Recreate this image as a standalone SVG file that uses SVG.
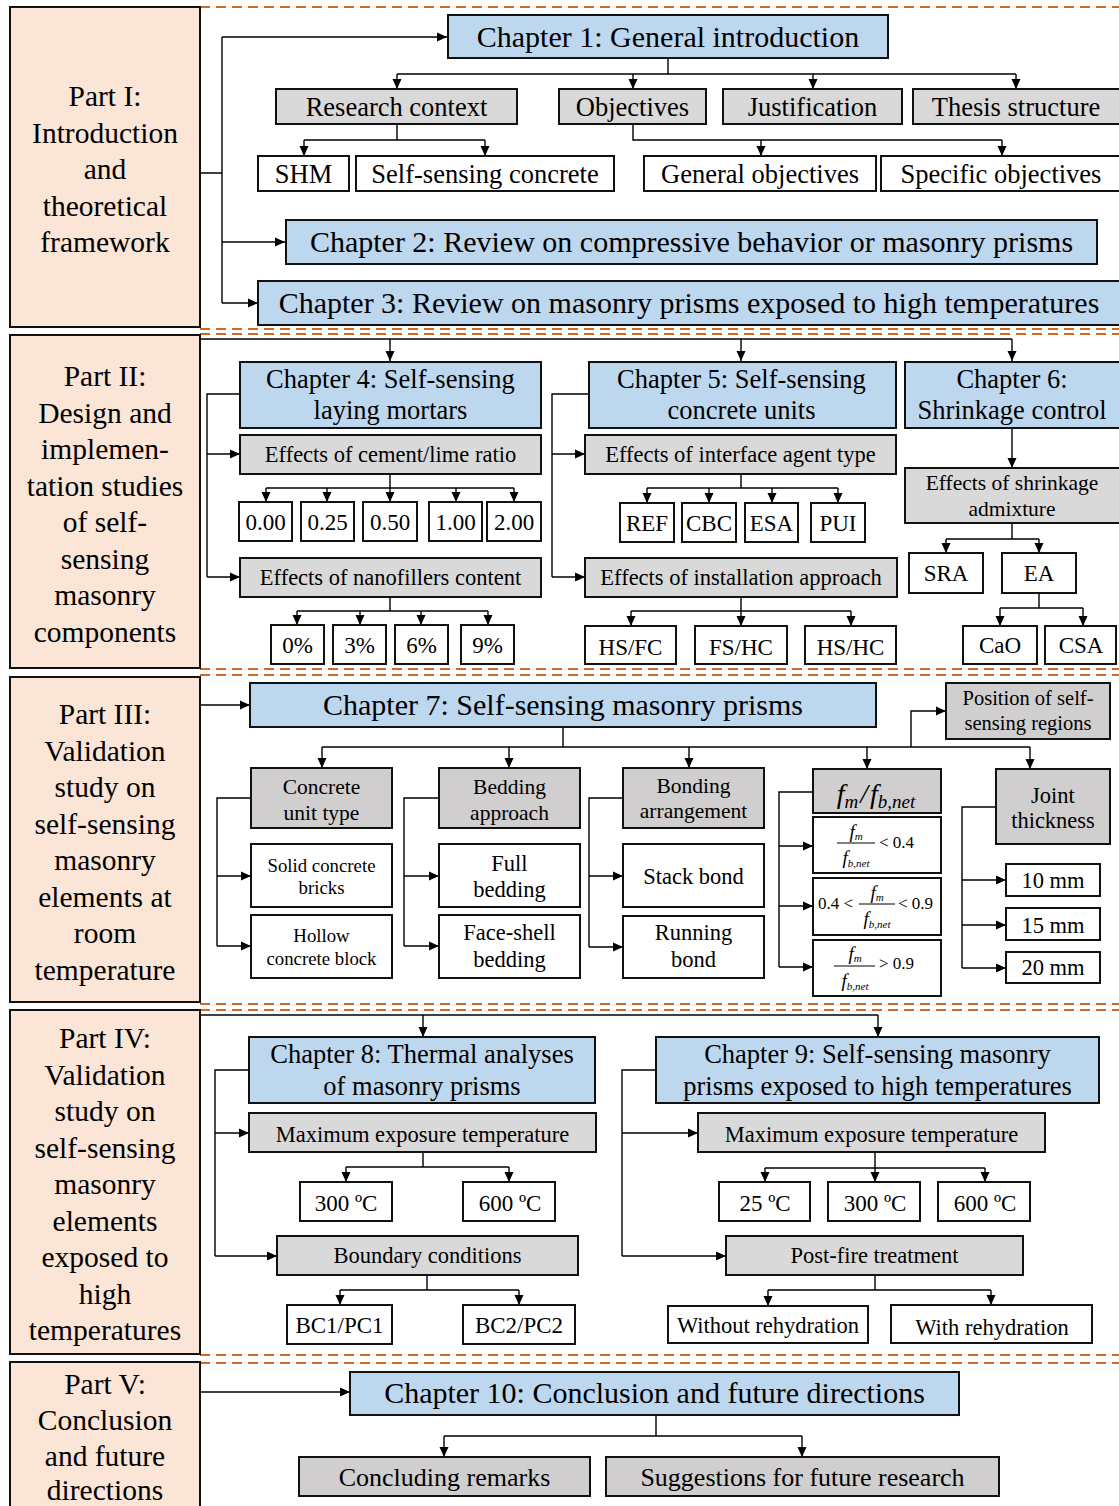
<svg xmlns="http://www.w3.org/2000/svg" width="1119" height="1506" viewBox="0 0 1119 1506">
<style>
rect{stroke:#111;stroke-width:2}
.p{fill:#FBE5D6}
.b{fill:#BDD7EE}
.g{fill:#D9D9D9}
.h{fill:#D0CECE}
.w{fill:#FFFFFF}
text{font-family:"Liberation Serif","Times New Roman",serif;fill:#000;text-anchor:middle}
.pt{font-size:29.5px}
.c1{font-size:30px}
.c2{font-size:26.5px}
.s26{font-size:26px}
.s22{font-size:22.5px}
.s23{font-size:23px}
.s21{font-size:21.5px}
.s19{font-size:18.8px}
.s20{font-size:20.5px}
.i{font-style:italic}
.l{text-anchor:start}
.conn path{fill:none;stroke:#000;stroke-width:1.4}
.dash line{stroke:#D2691E;stroke-width:2;stroke-dasharray:10 6}
</style>
<defs>
<marker id="a" markerUnits="userSpaceOnUse" markerWidth="10" markerHeight="10" refX="10" refY="5" orient="auto" viewBox="0 0 10 10">
<path d="M0,0.5 L10,5 L0,9.5 z" fill="#000"/>
</marker>
</defs>
<rect width="1119" height="1506" fill="#fff" style="stroke:none"/>

<g class="dash">
<line x1="200" y1="7" x2="1119" y2="7"/>
<line x1="200" y1="329" x2="1119" y2="329"/>
<line x1="200" y1="334" x2="1119" y2="334"/>
<line x1="200" y1="669" x2="1119" y2="669"/>
<line x1="200" y1="675" x2="1119" y2="675"/>
<line x1="200" y1="1004" x2="1119" y2="1004"/>
<line x1="200" y1="1010" x2="1119" y2="1010"/>
<line x1="200" y1="1355" x2="1119" y2="1355"/>
<line x1="200" y1="1363" x2="1119" y2="1363"/>
</g>

<g class="conn">
<!-- Part I -->
<path d="M200,173 H222 M222,37 V303"/>
<path d="M222,37 H447" marker-end="url(#a)"/>
<path d="M222,242 H285" marker-end="url(#a)"/>
<path d="M222,303 H258" marker-end="url(#a)"/>
<path d="M668,58 V74 M397,74 H1016"/>
<path d="M397,74 V89" marker-end="url(#a)"/>
<path d="M633,74 V89" marker-end="url(#a)"/>
<path d="M813,74 V89" marker-end="url(#a)"/>
<path d="M1016,74 V89" marker-end="url(#a)"/>
<path d="M397,124 V140 M304,140 H485"/>
<path d="M304,140 V156" marker-end="url(#a)"/>
<path d="M485,140 V156" marker-end="url(#a)"/>
<path d="M633,124 V140 H1002"/>
<path d="M761,140 V156" marker-end="url(#a)"/>
<path d="M1002,140 V156" marker-end="url(#a)"/>
<!-- Part II -->
<path d="M200,339 H1012"/>
<path d="M390,339 V361" marker-end="url(#a)"/>
<path d="M741,339 V361" marker-end="url(#a)"/>
<path d="M1012,339 V361" marker-end="url(#a)"/>
<path d="M240,394 H207 V577"/>
<path d="M207,454 H240" marker-end="url(#a)"/>
<path d="M207,577 H240" marker-end="url(#a)"/>
<path d="M390,474 V488 M266,488 H514"/>
<path d="M266,488 V502" marker-end="url(#a)"/>
<path d="M327,488 V502" marker-end="url(#a)"/>
<path d="M390,488 V502" marker-end="url(#a)"/>
<path d="M456,488 V502" marker-end="url(#a)"/>
<path d="M514,488 V502" marker-end="url(#a)"/>
<path d="M390,597 V611 M297,611 H488"/>
<path d="M297,611 V625" marker-end="url(#a)"/>
<path d="M360,611 V625" marker-end="url(#a)"/>
<path d="M421,611 V625" marker-end="url(#a)"/>
<path d="M488,611 V625" marker-end="url(#a)"/>
<path d="M589,394 H552 V577"/>
<path d="M552,454 H585" marker-end="url(#a)"/>
<path d="M552,577 H585" marker-end="url(#a)"/>
<path d="M741,474 V488 M647,488 H838"/>
<path d="M647,488 V503" marker-end="url(#a)"/>
<path d="M709,488 V503" marker-end="url(#a)"/>
<path d="M772,488 V503" marker-end="url(#a)"/>
<path d="M838,488 V503" marker-end="url(#a)"/>
<path d="M741,597 V611 M631,611 H851"/>
<path d="M631,611 V626" marker-end="url(#a)"/>
<path d="M741,611 V626" marker-end="url(#a)"/>
<path d="M851,611 V626" marker-end="url(#a)"/>
<path d="M1012,428 V468" marker-end="url(#a)"/>
<path d="M1012,523 V539 M946,539 H1039"/>
<path d="M946,539 V553" marker-end="url(#a)"/>
<path d="M1039,539 V553" marker-end="url(#a)"/>
<path d="M1039,593 V608 M1000,608 H1083"/>
<path d="M1000,608 V626" marker-end="url(#a)"/>
<path d="M1083,608 V626" marker-end="url(#a)"/>
<!-- Part III -->
<path d="M200,705 H250" marker-end="url(#a)"/>
<path d="M563,727 V747 M322,747 H1030"/>
<path d="M322,747 V768" marker-end="url(#a)"/>
<path d="M509,747 V768" marker-end="url(#a)"/>
<path d="M689,747 V768" marker-end="url(#a)"/>
<path d="M867,747 V769" marker-end="url(#a)"/>
<path d="M1030,747 V769" marker-end="url(#a)"/>
<path d="M911,747 V711 H946" marker-end="url(#a)"/>
<path d="M251,798 H217 V946"/>
<path d="M217,876 H251" marker-end="url(#a)"/>
<path d="M217,946 H251" marker-end="url(#a)"/>
<path d="M439,798 H404 V946"/>
<path d="M404,876 H439" marker-end="url(#a)"/>
<path d="M404,946 H439" marker-end="url(#a)"/>
<path d="M623,798 H589 V947"/>
<path d="M589,876 H623" marker-end="url(#a)"/>
<path d="M589,947 H623" marker-end="url(#a)"/>
<path d="M813,792 H779 V967"/>
<path d="M779,846 H813" marker-end="url(#a)"/>
<path d="M779,906 H813" marker-end="url(#a)"/>
<path d="M779,967 H813" marker-end="url(#a)"/>
<path d="M996,807 H962 V968"/>
<path d="M962,880 H1006" marker-end="url(#a)"/>
<path d="M962,925 H1006" marker-end="url(#a)"/>
<path d="M962,968 H1006" marker-end="url(#a)"/>
<!-- Part IV -->
<path d="M200,1015 H878"/>
<path d="M423,1015 V1037" marker-end="url(#a)"/>
<path d="M878,1015 V1037" marker-end="url(#a)"/>
<path d="M249,1070 H215 V1256"/>
<path d="M215,1133 H249" marker-end="url(#a)"/>
<path d="M215,1256 H277" marker-end="url(#a)"/>
<path d="M423,1152 V1167 M346,1167 H509"/>
<path d="M346,1167 V1182" marker-end="url(#a)"/>
<path d="M509,1167 V1182" marker-end="url(#a)"/>
<path d="M427,1275 V1290 M340,1290 H519"/>
<path d="M340,1290 V1305" marker-end="url(#a)"/>
<path d="M519,1290 V1305" marker-end="url(#a)"/>
<path d="M656,1070 H622 V1256"/>
<path d="M622,1133 H698" marker-end="url(#a)"/>
<path d="M622,1256 H726" marker-end="url(#a)"/>
<path d="M875,1152 V1168 M765,1168 H985"/>
<path d="M765,1168 V1182" marker-end="url(#a)"/>
<path d="M875,1168 V1182" marker-end="url(#a)"/>
<path d="M985,1168 V1182" marker-end="url(#a)"/>
<path d="M875,1275 V1290 M768,1290 H991"/>
<path d="M768,1290 V1306" marker-end="url(#a)"/>
<path d="M991,1290 V1305" marker-end="url(#a)"/>
<!-- Part V -->
<path d="M200,1392 H350" marker-end="url(#a)"/>
<path d="M656,1415 V1436 M444,1436 H802"/>
<path d="M444,1436 V1457" marker-end="url(#a)"/>
<path d="M802,1436 V1457" marker-end="url(#a)"/>
</g>

<!-- Parts -->
<g id="part1"><rect class="p" x="10" y="7" width="190" height="320"/>
<text class="pt" x="105" y="106">Part I:</text><text class="pt" x="105" y="142.5">Introduction</text><text class="pt" x="105" y="179">and</text><text class="pt" x="105" y="215.5">theoretical</text><text class="pt" x="105" y="252">framework</text></g>
<g id="part2"><rect class="p" x="10" y="335" width="190" height="333"/>
<text class="pt" x="105" y="386">Part II:</text><text class="pt" x="105" y="422.5">Design and</text><text class="pt" x="105" y="459">implemen-</text><text class="pt" x="105" y="495.5">tation studies</text><text class="pt" x="105" y="532">of self-</text><text class="pt" x="105" y="568.5">sensing</text><text class="pt" x="105" y="605">masonry</text><text class="pt" x="105" y="641.5">components</text></g>
<g id="part3"><rect class="p" x="10" y="677" width="190" height="325"/>
<text class="pt" x="105" y="724">Part III:</text><text class="pt" x="105" y="760.5">Validation</text><text class="pt" x="105" y="797">study on</text><text class="pt" x="105" y="833.5">self-sensing</text><text class="pt" x="105" y="870">masonry</text><text class="pt" x="105" y="906.5">elements at</text><text class="pt" x="105" y="943">room</text><text class="pt" x="105" y="979.5">temperature</text></g>
<g id="part4"><rect class="p" x="10" y="1010" width="190" height="344"/>
<text class="pt" x="105" y="1048">Part IV:</text><text class="pt" x="105" y="1084.5">Validation</text><text class="pt" x="105" y="1121">study on</text><text class="pt" x="105" y="1157.5">self-sensing</text><text class="pt" x="105" y="1194">masonry</text><text class="pt" x="105" y="1230.5">elements</text><text class="pt" x="105" y="1267">exposed to</text><text class="pt" x="105" y="1303.5">high</text><text class="pt" x="105" y="1340">temperatures</text></g>
<g id="part5"><rect class="p" x="10" y="1362" width="190" height="160"/>
<text class="pt" x="105" y="1394">Part V:</text><text class="pt" x="105" y="1430">Conclusion</text><text class="pt" x="105" y="1466">and future</text><text class="pt" x="105" y="1500">directions</text></g>

<!-- Part I nodes -->
<g id="ch1"><rect class="b" x="448" y="15" width="440" height="43"/><text class="c1" x="668" y="47">Chapter 1: General introduction</text></g>
<g id="rc"><rect class="g" x="276" y="89" width="241" height="35"/><text class="c2" x="396.5" y="116">Research context</text></g>
<g id="obj"><rect class="g" x="559" y="89" width="147" height="35"/><text class="c2" x="632.5" y="116">Objectives</text></g>
<g id="just"><rect class="g" x="723" y="89" width="179" height="35"/><text class="c2" x="812.5" y="116">Justification</text></g>
<g id="ts"><rect class="g" x="913" y="89" width="210" height="35"/><text class="c2" x="1016" y="116">Thesis structure</text></g>
<g id="shm"><rect class="w" x="258" y="156" width="91" height="35"/><text class="c2" x="303.5" y="183">SHM</text></g>
<g id="ssc"><rect class="w" x="356" y="156" width="258" height="35"/><text class="c2" x="485" y="183">Self-sensing concrete</text></g>
<g id="go"><rect class="w" x="644" y="156" width="232" height="35"/><text class="c2" x="760" y="183">General objectives</text></g>
<g id="so"><rect class="w" x="881" y="156" width="242" height="35"/><text class="c2" x="1001" y="183">Specific objectives</text></g>
<g id="ch2"><rect class="b" x="286" y="220" width="811" height="44"/><text class="c1" x="691.5" y="252">Chapter 2: Review on compressive behavior or masonry prisms</text></g>
<g id="ch3"><rect class="b" x="258" y="281" width="865" height="44"/><text class="c1" x="689" y="313">Chapter 3: Review on masonry prisms exposed to high temperatures</text></g>

<!-- Part II nodes -->
<g id="ch4"><rect class="b" x="240" y="362" width="301" height="66"/><text class="c2" x="390.5" y="388">Chapter 4: Self-sensing</text><text class="c2" x="390.5" y="419">laying mortars</text></g>
<g id="clr"><rect class="g" x="240" y="435" width="301" height="39"/><text class="s22" x="390.5" y="462">Effects of cement/lime ratio</text></g>
<g id="r000"><rect class="w" x="239" y="502" width="53" height="39"/><text class="s23" x="265.5" y="530">0.00</text></g>
<g id="r025"><rect class="w" x="301" y="502" width="53" height="39"/><text class="s23" x="327.5" y="530">0.25</text></g>
<g id="r050"><rect class="w" x="363" y="502" width="54" height="39"/><text class="s23" x="390" y="530">0.50</text></g>
<g id="r100"><rect class="w" x="429" y="502" width="53" height="39"/><text class="s23" x="455.5" y="530">1.00</text></g>
<g id="r200"><rect class="w" x="487" y="502" width="54" height="39"/><text class="s23" x="514" y="530">2.00</text></g>
<g id="nfc"><rect class="g" x="240" y="558" width="301" height="39"/><text class="s22" x="390.5" y="585">Effects of nanofillers content</text></g>
<g id="n0"><rect class="w" x="271" y="625" width="53" height="39"/><text class="s23" x="297.5" y="653">0%</text></g>
<g id="n3"><rect class="w" x="333" y="625" width="53" height="39"/><text class="s23" x="359.5" y="653">3%</text></g>
<g id="n6"><rect class="w" x="395" y="625" width="53" height="39"/><text class="s23" x="421.5" y="653">6%</text></g>
<g id="n9"><rect class="w" x="461" y="625" width="53" height="39"/><text class="s23" x="487.5" y="653">9%</text></g>
<g id="ch5"><rect class="b" x="589" y="362" width="307" height="66"/><text class="c2" x="741.5" y="388">Chapter 5: Self-sensing</text><text class="c2" x="741.5" y="419">concrete units</text></g>
<g id="iat"><rect class="g" x="585" y="435" width="311" height="39"/><text class="s22" x="740.5" y="462">Effects of interface agent type</text></g>
<g id="ref"><rect class="w" x="620" y="503" width="54" height="39"/><text class="s23" x="647" y="531">REF</text></g>
<g id="cbc"><rect class="w" x="682" y="503" width="54" height="39"/><text class="s23" x="709" y="531">CBC</text></g>
<g id="esa"><rect class="w" x="745" y="503" width="53" height="39"/><text class="s23" x="771.5" y="531">ESA</text></g>
<g id="pui"><rect class="w" x="811" y="503" width="54" height="39"/><text class="s23" x="838" y="531">PUI</text></g>
<g id="inst"><rect class="g" x="585" y="558" width="312" height="39"/><text class="s22" x="741" y="585">Effects of installation approach</text></g>
<g id="hsfc"><rect class="w" x="585" y="626" width="91" height="38"/><text class="s23" x="630.5" y="655">HS/FC</text></g>
<g id="fshc"><rect class="w" x="695" y="626" width="92" height="38"/><text class="s23" x="741" y="655">FS/HC</text></g>
<g id="hshc"><rect class="w" x="805" y="626" width="91" height="38"/><text class="s23" x="850.5" y="655">HS/HC</text></g>
<g id="ch6"><rect class="b" x="905" y="362" width="218" height="66"/><text class="c2" x="1012" y="388">Chapter 6:</text><text class="c2" x="1012" y="419">Shrinkage control</text></g>
<g id="esa2"><rect class="g" x="905" y="468" width="218" height="55"/><text class="s21" x="1012" y="490">Effects of shrinkage</text><text class="s21" x="1012" y="516">admixture</text></g>
<g id="sra"><rect class="w" x="909" y="553" width="74" height="40"/><text class="s23" x="946" y="581">SRA</text></g>
<g id="ea"><rect class="w" x="1002" y="553" width="74" height="40"/><text class="s23" x="1039" y="581">EA</text></g>
<g id="cao"><rect class="w" x="963" y="626" width="74" height="38"/><text class="s23" x="1000" y="653">CaO</text></g>
<g id="csa"><rect class="w" x="1045" y="626" width="71" height="38"/><text class="s23" x="1081" y="653">CSA</text></g>

<!-- Part III nodes -->
<g id="ch7"><rect class="b" x="250" y="683" width="626" height="44"/><text class="c1" x="563" y="715">Chapter 7: Self-sensing masonry prisms</text></g>
<g id="pos"><rect class="h" x="946" y="683" width="164" height="56"/><text class="s20" x="1028" y="705">Position of self-</text><text class="s20" x="1028" y="730">sensing regions</text></g>
<g id="cut"><rect class="h" x="251" y="768" width="141" height="60"/><text class="s21" x="321.5" y="794">Concrete</text><text class="s21" x="321.5" y="820">unit type</text></g>
<g id="scb"><rect class="w" x="251" y="844" width="141" height="63"/><text class="s19" x="321.5" y="872">Solid concrete</text><text class="s19" x="321.5" y="894">bricks</text></g>
<g id="hcb"><rect class="w" x="251" y="915" width="141" height="63"/><text class="s19" x="321.5" y="942">Hollow</text><text class="s19" x="321.5" y="965">concrete block</text></g>
<g id="bed"><rect class="h" x="439" y="768" width="141" height="60"/><text class="s21" x="509.5" y="794">Bedding</text><text class="s21" x="509.5" y="820">approach</text></g>
<g id="fbed"><rect class="w" x="439" y="844" width="141" height="63"/><text class="s22" x="509.5" y="871">Full</text><text class="s22" x="509.5" y="897">bedding</text></g>
<g id="fsb"><rect class="w" x="439" y="915" width="141" height="63"/><text class="s22" x="509.5" y="940">Face-shell</text><text class="s22" x="509.5" y="967">bedding</text></g>
<g id="bond"><rect class="h" x="623" y="768" width="141" height="60"/><text class="s21" x="693.5" y="793">Bonding</text><text class="s21" x="693.5" y="818">arrangement</text></g>
<g id="sb"><rect class="w" x="623" y="844" width="141" height="63"/><text class="s22" x="693.5" y="884">Stack bond</text></g>
<g id="rb"><rect class="w" x="623" y="916" width="141" height="62"/><text class="s22" x="693.5" y="940">Running</text><text class="s22" x="693.5" y="967">bond</text></g>
<g id="fm"><rect class="h" x="813" y="769" width="128" height="44"/><text class="i" style="font-size:28px" x="876" y="803">f<tspan dy="5" style="font-size:19px">m</tspan><tspan dx="2" dy="-5">/</tspan><tspan dx="2">f</tspan><tspan dy="5" style="font-size:19px">b,net</tspan></text></g>
<g id="m1"><rect class="w" x="813" y="817" width="128" height="56"/>
<path d="M837,843 H875" stroke="#000" stroke-width="1"/>
<text class="i" style="font-size:19px" x="856" y="838">f<tspan dy="2" style="font-size:11px">m</tspan></text>
<text class="i" style="font-size:19px" x="856" y="864">f<tspan dy="3" style="font-size:11px">b,net</tspan></text>
<text class="l" style="font-size:17px" x="879" y="848">&lt; 0.4</text></g>
<g id="m2"><rect class="w" x="813" y="878" width="128" height="57"/>
<text class="l" style="font-size:17px" x="818" y="909">0.4 &lt;</text>
<path d="M859,904 H895" stroke="#000" stroke-width="1"/>
<text class="i" style="font-size:19px" x="877" y="899">f<tspan dy="2" style="font-size:11px">m</tspan></text>
<text class="i" style="font-size:19px" x="877" y="925">f<tspan dy="3" style="font-size:11px">b,net</tspan></text>
<text class="l" style="font-size:17px" x="898" y="909">&lt; 0.9</text></g>
<g id="m3"><rect class="w" x="813" y="940" width="128" height="56"/>
<path d="M834,966 H875" stroke="#000" stroke-width="1"/>
<text class="i" style="font-size:19px" x="855" y="960">f<tspan dy="2" style="font-size:11px">m</tspan></text>
<text class="i" style="font-size:19px" x="855" y="987">f<tspan dy="3" style="font-size:11px">b,net</tspan></text>
<text class="l" style="font-size:17px" x="879" y="969">&gt; 0.9</text></g>
<g id="jt"><rect class="h" x="996" y="769" width="114" height="75"/><text class="s22" x="1053" y="803">Joint</text><text class="s22" x="1053" y="828">thickness</text></g>
<g id="j10"><rect class="w" x="1006" y="864" width="94" height="32"/><text class="s22" x="1053" y="888">10 mm</text></g>
<g id="j15"><rect class="w" x="1006" y="908" width="94" height="32"/><text class="s22" x="1053" y="933">15 mm</text></g>
<g id="j20"><rect class="w" x="1006" y="952" width="94" height="31"/><text class="s22" x="1053" y="975">20 mm</text></g>

<!-- Part IV nodes -->
<g id="ch8"><rect class="b" x="249" y="1037" width="346" height="66"/><text class="c2" x="422" y="1063">Chapter 8: Thermal analyses</text><text class="c2" x="422" y="1095">of masonry prisms</text></g>
<g id="met1"><rect class="g" x="249" y="1113" width="347" height="39"/><text class="s22" x="422.5" y="1142">Maximum exposure temperature</text></g>
<g id="t300a"><rect class="w" x="300" y="1182" width="92" height="39"/><text class="s23" x="346" y="1211">300 ºC</text></g>
<g id="t600a"><rect class="w" x="463" y="1182" width="92" height="39"/><text class="s23" x="510" y="1211">600 ºC</text></g>
<g id="bc"><rect class="g" x="277" y="1236" width="301" height="39"/><text class="s22" x="427.5" y="1263">Boundary conditions</text></g>
<g id="bc1"><rect class="w" x="287" y="1305" width="105" height="39"/><text class="s23" x="339.5" y="1333">BC1/PC1</text></g>
<g id="bc2"><rect class="w" x="463" y="1305" width="112" height="39"/><text class="s23" x="519" y="1333">BC2/PC2</text></g>
<g id="ch9"><rect class="b" x="656" y="1037" width="443" height="66"/><text class="c2" x="877.5" y="1063">Chapter 9: Self-sensing masonry</text><text class="c2" x="877.5" y="1095">prisms exposed to high temperatures</text></g>
<g id="met2"><rect class="g" x="698" y="1113" width="347" height="39"/><text class="s22" x="871.5" y="1142">Maximum exposure temperature</text></g>
<g id="t25"><rect class="w" x="719" y="1182" width="91" height="39"/><text class="s23" x="765" y="1211">25 ºC</text></g>
<g id="t300b"><rect class="w" x="828" y="1182" width="92" height="39"/><text class="s23" x="875" y="1211">300 ºC</text></g>
<g id="t600b"><rect class="w" x="938" y="1182" width="92" height="39"/><text class="s23" x="985" y="1211">600 ºC</text></g>
<g id="pft"><rect class="g" x="726" y="1236" width="297" height="39"/><text class="s22" x="874.5" y="1263">Post-fire treatment</text></g>
<g id="wor"><rect class="w" x="668" y="1306" width="200" height="37"/><text class="s22" x="768" y="1333">Without rehydration</text></g>
<g id="wr"><rect class="w" x="891" y="1305" width="201" height="38"/><text class="s22" x="992" y="1335">With rehydration</text></g>

<!-- Part V nodes -->
<g id="ch10"><rect class="b" x="350" y="1372" width="609" height="43"/><text class="c1" x="654.5" y="1403">Chapter 10: Conclusion and future directions</text></g>
<g id="cr"><rect class="h" x="299" y="1457" width="291" height="39"/><text class="s26" x="444.5" y="1486">Concluding remarks</text></g>
<g id="sfr"><rect class="h" x="606" y="1457" width="393" height="39"/><text class="s26" x="802.5" y="1486">Suggestions for future research</text></g>
</svg>
